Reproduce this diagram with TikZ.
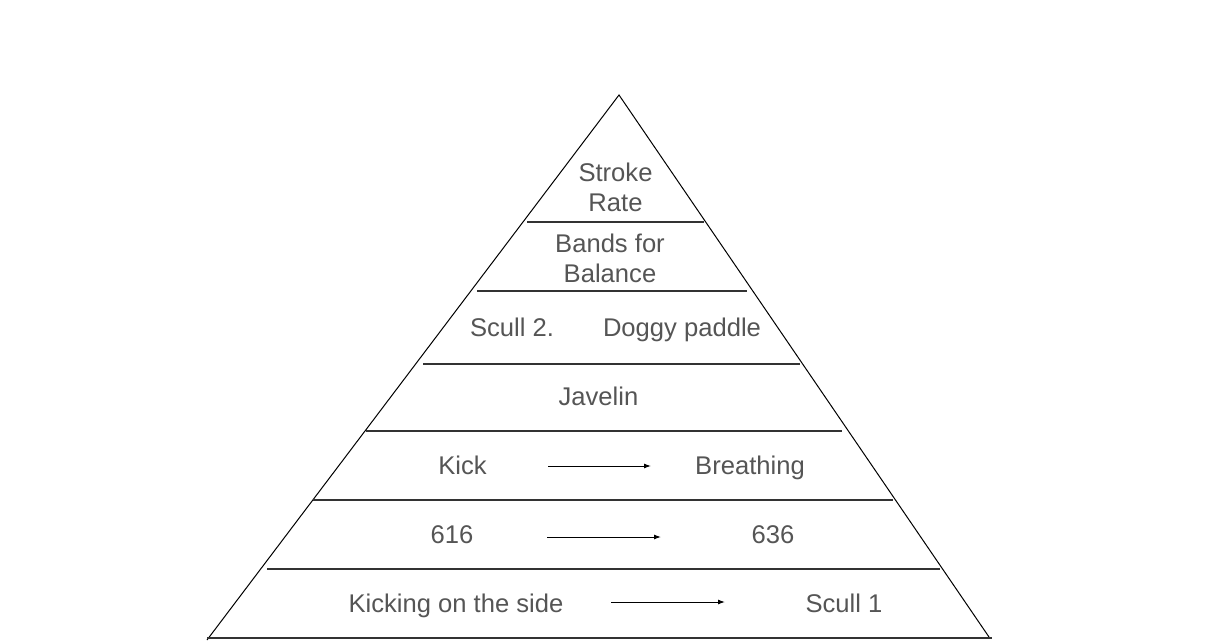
\documentclass[tikz,border=0pt]{standalone}
\usepackage{fontspec}
\setmainfont{Liberation Sans}
\usetikzlibrary{arrows.meta}
\definecolor{txtgray}{HTML}{555555}
\definecolor{linegray}{HTML}{333333}
\begin{document}
\begin{tikzpicture}[x=1pt,y=-1pt,
  side/.style={draw=black,line width=1pt},
  tier/.style={draw=linegray,line width=1.7pt},
  lbl/.style={text=txtgray,font=\fontsize{25.6}{30.5}\selectfont,inner sep=0pt,anchor=base,align=center},
  flow/.style={draw=black,line width=1pt,-{Latex[length=7pt,width=5pt]}}]
\useasboundingbox (0,0) rectangle (1210,644);
% triangle sides
\coordinate (apex) at (619,95);
\coordinate (bl) at (207,640);
\coordinate (br) at (989,637);
\draw[side] (bl) -- (apex) -- (br);
% tier lines
\draw[tier] (527,222) -- (704,222);
\draw[tier] (477,291) -- (747,291);
\draw[tier] (423,364) -- (800,364);
\draw[tier] (366,431) -- (842,431);
\draw[tier] (313,500) -- (893,500);
\draw[tier] (267,569) -- (940,569);
\draw[tier] (207,638) -- (992,638);
% labels (base anchor = baseline of last line)
\node[lbl] (stroke) at (615.5,212) {Stroke\\Rate};
\node[lbl] (bands) at (610,283) {Bands for\\Balance};
\node[lbl] (scull2) at (512,336) {Scull 2.};
\node[lbl] (doggy) at (682,336) {Doggy paddle};
\node[lbl] (javelin) at (598.5,405) {Javelin};
\node[lbl] (kick) at (462.5,474) {Kick};
\node[lbl] (breath) at (750,474) {Breathing};
\node[lbl] (n616) at (452,543) {616};
\node[lbl] (n636) at (773,543) {636};
\node[lbl] (kside) at (456,612) {Kicking on the side};
\node[lbl] (scull1) at (844,612) {Scull 1};
% arrows
\coordinate (a1s) at (548,466);
\coordinate (a1e) at (651,466);
\coordinate (a2s) at (547,537);
\coordinate (a2e) at (661,537);
\coordinate (a3s) at (611,602);
\coordinate (a3e) at (725,602);
\draw[flow] (a1s) -- (a1e);
\draw[flow] (a2s) -- (a2e);
\draw[flow] (a3s) -- (a3e);
\end{tikzpicture}
\end{document}
